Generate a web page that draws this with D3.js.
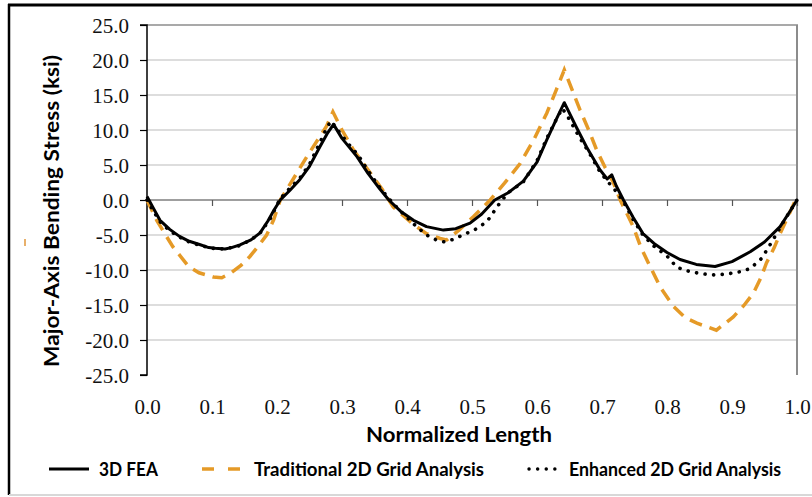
<!DOCTYPE html>
<html><head><meta charset="utf-8">
<script src="https://cdn.jsdelivr.net/npm/d3@7"></script>
<style>
html,body{margin:0;padding:0;background:#fff;}
svg{display:block;}
</style></head>
<body>
<svg id="chart" width="812" height="497"></svg>
<script>
// ---- data ----
const xTickValues = [0,0.1,0.2,0.3,0.4,0.5,0.6,0.7,0.8,0.9,1.0];
const yTickValues = [-25,-20,-15,-10,-5,0,5,10,15,20,25];
const seriesNames = ["3D FEA","Traditional 2D Grid Analysis","Enhanced 2D Grid Analysis"];

const feaX = [0,0.01,0.02,0.035,0.05,0.065,0.082,0.095,0.105,0.12,0.13,0.143,0.16,0.174,0.186,0.195,0.205,0.22,0.235,0.25,0.266,0.278,0.287,0.3,0.323,0.34,0.358,0.372,0.39,0.41,0.43,0.456,0.475,0.497,0.515,0.535,0.555,0.579,0.6,0.615,0.63,0.642,0.66,0.676,0.697,0.708,0.715,0.722,0.733,0.748,0.763,0.78,0.8,0.82,0.845,0.874,0.9,0.928,0.95,0.974,0.99,1.0];
const feaY = [0.5,-1.2,-2.9,-4.2,-5.2,-5.9,-6.4,-6.8,-6.9,-7.0,-6.8,-6.4,-5.7,-4.7,-3.0,-1.5,0.0,1.4,2.9,4.8,7.6,9.6,10.8,8.8,6.2,3.8,1.6,0.0,-1.6,-2.9,-3.8,-4.3,-4.1,-3.3,-2.0,0.0,1.0,2.7,5.4,8.6,11.6,13.9,10.5,7.6,4.3,3.0,3.6,2.0,0.0,-2.5,-4.8,-6.2,-7.5,-8.5,-9.2,-9.5,-8.8,-7.4,-6.0,-3.8,-1.5,0.0];

const tradX = [0,0.015,0.03,0.04,0.064,0.08,0.102,0.115,0.128,0.145,0.158,0.172,0.184,0.195,0.205,0.225,0.246,0.262,0.276,0.286,0.3,0.318,0.333,0.348,0.362,0.372,0.379,0.394,0.41,0.43,0.451,0.461,0.48,0.502,0.528,0.55,0.574,0.595,0.615,0.63,0.642,0.655,0.666,0.68,0.692,0.705,0.717,0.728,0.738,0.748,0.76,0.774,0.79,0.81,0.828,0.846,0.876,0.902,0.918,0.933,0.945,0.953,0.965,0.974,0.988,1.0];
const tradY = [0.0,-2.9,-5.2,-6.7,-9.5,-10.4,-11.0,-11.1,-10.5,-9.3,-8.1,-6.5,-5.0,-2.8,0.0,3.0,6.2,8.5,10.5,12.6,10.0,7.1,5.2,3.3,1.5,0.0,-1.0,-2.2,-3.5,-4.8,-5.5,-5.7,-4.3,-2.4,0.0,2.4,5.2,8.6,12.4,15.8,18.6,15.5,12.9,9.9,7.1,4.6,2.6,0.0,-1.9,-3.8,-6.8,-9.5,-12.5,-15.2,-16.8,-17.6,-18.6,-16.7,-15.1,-13.3,-11.0,-9.0,-6.8,-4.8,-2.0,0.5];

const enhX = [0,0.01,0.02,0.035,0.05,0.065,0.082,0.1,0.12,0.14,0.16,0.175,0.19,0.205,0.22,0.235,0.25,0.266,0.276,0.283,0.295,0.31,0.325,0.34,0.358,0.372,0.39,0.41,0.43,0.445,0.458,0.472,0.486,0.505,0.523,0.54,0.555,0.579,0.6,0.615,0.628,0.639,0.65,0.665,0.68,0.697,0.71,0.722,0.733,0.748,0.763,0.78,0.8,0.815,0.83,0.85,0.871,0.89,0.91,0.928,0.946,0.963,0.98,1.0];
const enhY = [0.0,-1.6,-3.1,-4.4,-5.3,-6.0,-6.5,-6.9,-7.0,-6.6,-5.7,-4.6,-2.6,0.2,1.7,3.1,5.1,8.2,10.2,11.3,9.8,8.0,6.4,4.2,1.8,0.2,-1.6,-3.4,-5.0,-5.7,-6.0,-5.6,-5.0,-4.2,-3.1,-0.8,1.0,2.6,5.6,8.8,11.2,13.1,11.5,9.0,6.8,4.0,2.5,1.2,-0.2,-2.8,-5.0,-6.6,-8.0,-9.6,-10.1,-10.5,-10.7,-10.6,-10.3,-9.8,-8.3,-5.7,-3.0,0.0];

// ---- chart ----
const svg = d3.select("#chart");
const x = d3.scaleLinear().domain([0,1]).range([147,797]);
const y = d3.scaleLinear().domain([-25,25]).range([375,25]);
const fmt = d => d.toFixed(1);

// outer frame
svg.append("line").attr("x1",8).attr("x2",812).attr("y1",5).attr("y2",5).attr("stroke","#000").attr("stroke-width",3);
svg.append("line").attr("x1",9).attr("x2",9).attr("y1",4).attr("y2",495).attr("stroke","#000").attr("stroke-width",2.5);
svg.append("line").attr("x1",9).attr("x2",812).attr("y1",495).attr("y2",495).attr("stroke","#d8d8d8").attr("stroke-width",2);
svg.append("line").attr("x1",25).attr("x2",25).attr("y1",239).attr("y2",246).attr("stroke","#e0963a").attr("stroke-width",1.5);

// gridlines
svg.append("g").selectAll("line").data(yTickValues.filter(d=>d!==0 && d!==25 && d!==-25)).join("line")
  .attr("x1",x(0)).attr("x2",x(1)).attr("y1",d=>y(d)).attr("y2",d=>y(d))
  .attr("stroke","#d2d2d2").attr("stroke-width",1.3);
// plot border top & right
svg.append("line").attr("x1",x(0)).attr("x2",x(1)+1).attr("y1",y(25)).attr("y2",y(25)).attr("stroke","#8c8c8c").attr("stroke-width",1.5);
svg.append("line").attr("x1",x(1)).attr("x2",x(1)).attr("y1",y(25)).attr("y2",y(-25)).attr("stroke","#8c8c8c").attr("stroke-width",2);

// y axis
const yAxis = svg.append("g").attr("transform",`translate(${x(0)},0)`)
  .call(d3.axisLeft(y).tickValues(yTickValues).tickFormat(fmt).tickSize(7).tickPadding(11));
yAxis.select(".domain").attr("stroke","#000").attr("stroke-width",1.5).attr("d",`M-7,${y(25)}H0V${y(-25)}H-7`);
yAxis.selectAll(".tick line").attr("stroke","#000").attr("stroke-width",1.2);
yAxis.selectAll("text").attr("font-family","'Liberation Serif','Times New Roman',serif").attr("font-size",21).attr("fill","#111").attr("dy","0.34em");

// x axis line at zero with ticks
const xAxis0 = svg.append("g").attr("transform",`translate(0,${y(0)})`)
  .call(d3.axisBottom(x).tickValues(xTickValues).tickSize(6).tickFormat(""));
xAxis0.select(".domain").attr("stroke","#7f7f7f").attr("stroke-width",1.5).attr("d",`M${x(0)},0H${x(1)}`);
xAxis0.selectAll(".tick line").attr("stroke","#555").attr("stroke-width",1.2);

// x tick labels at bottom
const xAxisB = svg.append("g").attr("transform",`translate(0,${y(-25)})`)
  .call(d3.axisBottom(x).tickValues(xTickValues).tickFormat(fmt).tickSize(0).tickPadding(24));
xAxisB.select(".domain").remove();
xAxisB.selectAll("text").attr("font-family","'Liberation Serif','Times New Roman',serif").attr("font-size",21).attr("fill","#111");

// axis titles
svg.append("text").attr("x",459).attr("y",442).attr("text-anchor","middle")
  .attr("font-family","Lato, 'Open Sans', sans-serif").attr("font-weight","bold").attr("font-size",21)
  .attr("textLength",186).attr("lengthAdjust","spacingAndGlyphs").attr("fill","#000").text("Normalized Length");
svg.append("text").attr("transform","translate(59,211) rotate(-90)").attr("text-anchor","middle")
  .attr("font-family","Lato, 'Open Sans', sans-serif").attr("font-weight","bold").attr("font-size",21)
  .attr("textLength",312).attr("lengthAdjust","spacingAndGlyphs").attr("fill","#000").text("Major-Axis Bending Stress (ksi)");

// series
const line = d3.line().x(d=>x(d[0])).y(d=>y(d[1]));
const zip = (a,b) => a.map((v,i)=>[v,b[i]]);
const orange = "#e59a27";
svg.append("path").datum(zip(tradX,tradY)).attr("d",line).attr("fill","none")
  .attr("stroke",orange).attr("stroke-width",3.5).attr("stroke-dasharray","13,8");
svg.append("path").datum(zip(feaX,feaY)).attr("d",line).attr("fill","none")
  .attr("stroke","#000").attr("stroke-width",3).attr("stroke-linejoin","round");
svg.append("path").datum(zip(enhX,enhY)).attr("d",line).attr("fill","none")
  .attr("stroke","#000").attr("stroke-width",3.6).attr("stroke-linecap","round").attr("stroke-dasharray","0.1,8.5");

// legend
const legY = 469;
const lg = svg.append("g").attr("font-family","Lato, 'Open Sans', sans-serif").attr("font-weight","bold").attr("font-size",19).attr("fill","#000");
lg.append("line").attr("x1",49).attr("x2",89).attr("y1",legY).attr("y2",legY).attr("stroke","#000").attr("stroke-width",3);
lg.append("text").attr("x",99).attr("y",476).attr("textLength",59).attr("lengthAdjust","spacingAndGlyphs").text(seriesNames[0]);
lg.append("line").attr("x1",202).attr("x2",240).attr("y1",legY).attr("y2",legY).attr("stroke",orange).attr("stroke-width",3.5).attr("stroke-dasharray","12,14");
lg.append("text").attr("x",254).attr("y",476).attr("textLength",230).attr("lengthAdjust","spacingAndGlyphs").text(seriesNames[1]);
lg.append("line").attr("x1",529).attr("x2",558).attr("y1",legY).attr("y2",legY).attr("stroke","#000").attr("stroke-width",3.4).attr("stroke-linecap","round").attr("stroke-dasharray","0.1,8.5");
lg.append("text").attr("x",569).attr("y",476).attr("textLength",212).attr("lengthAdjust","spacingAndGlyphs").text(seriesNames[2]);
</script>
</body></html>
